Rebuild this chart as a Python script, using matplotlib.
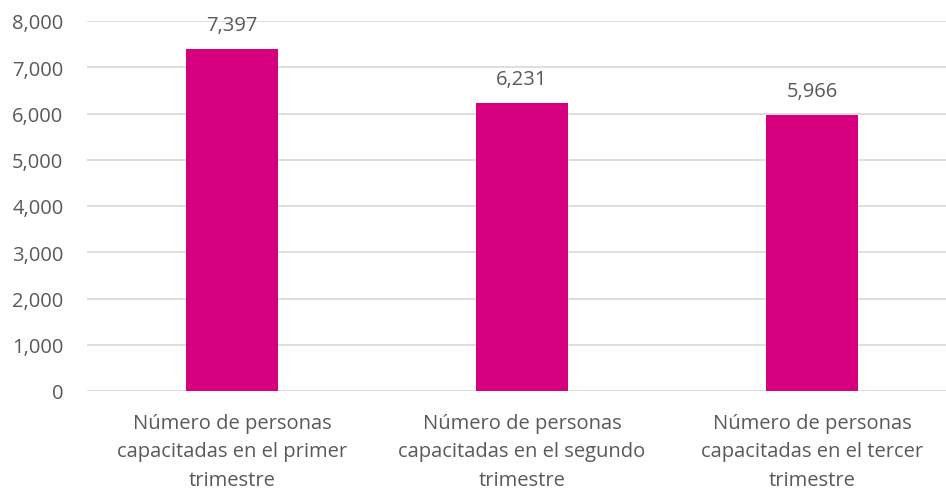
import matplotlib
matplotlib.use("Agg")
import matplotlib.pyplot as plt
from matplotlib.ticker import FuncFormatter

categories = [
    "Número de personas\ncapacitadas en el primer\ntrimestre",
    "Número de personas\ncapacitadas en el segundo\ntrimestre",
    "Número de personas\ncapacitadas en el tercer\ntrimestre",
]
values = [7397, 6231, 5966]
yticks = [0, 1000, 2000, 3000, 4000, 5000, 6000, 7000, 8000]

plt.rcParams['font.family'] = ['Open Sans', 'DejaVu Sans']
text_color = "#595959"
bar_color = "#D6007E"
grid_color = "#D9D9D9"

W, H = 946, 489
fig = plt.figure(figsize=(W / 100, H / 100), dpi=100)
ax = fig.add_axes([87 / W, 1 - 392 / H, (946 - 87) / W, (392 - 22) / H])

x = list(range(len(categories)))
ax.bar(x, values, width=0.315, color=bar_color, zorder=3)
ax.set_xlim(-0.5, -0.5 + (946 - 87) / 290)
ax.set_ylim(0, 8000)
ax.set_yticks(yticks)
ax.yaxis.set_major_formatter(FuncFormatter(lambda v, p: f"{int(v):,}"))
ax.set_xticks(x)
ax.set_xticklabels(categories, linespacing=1.55, multialignment='center')
ax.tick_params(axis='both', length=0, labelsize=14.5, colors=text_color)
ax.tick_params(axis='y', pad=17)
ax.tick_params(axis='x', pad=16)
ax.grid(axis='y', color=grid_color, linewidth=1.2, zorder=0)
for s in ax.spines.values():
    s.set_visible(False)
for xi, v in zip(x, values):
    ax.annotate(f"{v:,}", (xi, v), xytext=(0, 10), textcoords='offset points',
                ha='center', va='bottom', fontsize=14.5, color=text_color)

fig.savefig("out.png", dpi=100)
